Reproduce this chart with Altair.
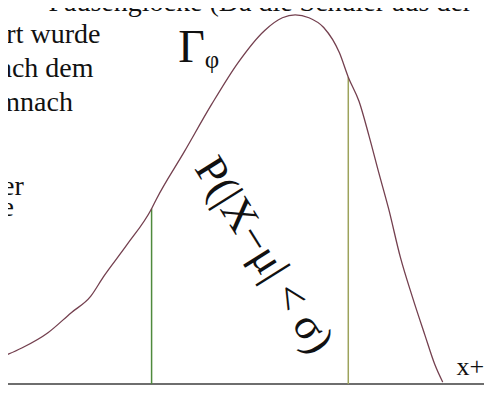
import altair as alt
import pandas as pd

# Reference geometry (x in picture units, y = height above the base line)
BASE = 390
curve_x = [0, 20, 47, 70, 90, 103, 127, 152, 157, 185, 213, 240, 267, 285, 298,
           312, 327, 343, 352, 363, 373, 383, 393, 405, 417, 430, 440, 448]
curve_ytop = [362, 353, 337, 317, 300, 280, 247, 210, 200, 152, 103, 60, 27, 14, 11,
              14, 24, 50, 75, 100, 135, 173, 210, 260, 300, 340, 370, 388]
curve_h = [BASE - v for v in curve_ytop]

sigma_x = [152, 352]
sigma_top = [BASE - 210, BASE - 75]
sigma_color = ["#4f8a3c", "#9da35c"]

body_text = ["Pausenglocke (Da die Schüler aus der", "rt wurde", "ach dem", "mnach", "er", "e"]
body_right = [478, 100, 93, 72, 22, 12]
body_base = [BASE - 7, BASE - 40, BASE - 75, BASE - 110, BASE - 196, BASE - 218]

X_DOM = [6, 490]
Y_DOM = [-2, 386]
FONT = "Liberation Serif"


def X(f):
    return alt.X(f, scale=alt.Scale(domain=X_DOM, nice=False, zero=False), axis=None)


def Y(f):
    return alt.Y(f, scale=alt.Scale(domain=Y_DOM, nice=False, zero=False), axis=None)


curve_df = pd.DataFrame({"x": curve_x, "h": curve_h})
curve = alt.Chart(curve_df).mark_line(
    color="#74404f", strokeWidth=1.3, interpolate="monotone", clip=True
).encode(x=X("x:Q"), y=Y("h:Q"))

sig_layers = []
for sx, st, sc in zip(sigma_x, sigma_top, sigma_color):
    d = pd.DataFrame({"x": [sx], "h0": [0], "h1": [st]})
    sig_layers.append(
        alt.Chart(d).mark_rule(strokeWidth=1.5, color=sc).encode(
            x=X("x:Q"), y=Y("h0:Q"), y2="h1:Q"
        )
    )

base_df = pd.DataFrame({"x0": [0], "x1": [492], "h": [0]})
baseline = alt.Chart(base_df).mark_rule(color="#6e6e6e", strokeWidth=2, clip=True).encode(
    x=X("x0:Q"), x2="x1:Q", y=Y("h:Q")
)


def label(texts, xs_, hs, size, align="left", baseline="alphabetic", angle=0):
    d = pd.DataFrame({"t": texts, "x": xs_, "h": hs})
    kw = dict(font=FONT, fontSize=size, align=align, baseline=baseline, color="#111111")
    if angle:
        kw["angle"] = angle
    return alt.Chart(d).mark_text(**kw).encode(x=X("x:Q"), y=Y("h:Q"), text="t:N")


body = label(body_text, body_right, body_base, 28, align="right")
gamma = label(["Γ"], [179], [BASE - 59], 46)
phi = label(["φ"], [206], [BASE - 66], 25)
xplus = label(["x+"], [462], [BASE - 381], 26)
prob = label(["P(|X−μ| < σ)"], [266], [BASE - 258], 44, align="center",
             baseline="middle", angle=58)

chart = alt.layer(baseline, *sig_layers, curve, body, gamma, phi, xplus, prob).properties(
    width=476, height=378, padding=0, autosize="none", background="white",
).configure_view(stroke=None)

chart.save("out.html", embed_options={"renderer": "svg", "actions": False})
